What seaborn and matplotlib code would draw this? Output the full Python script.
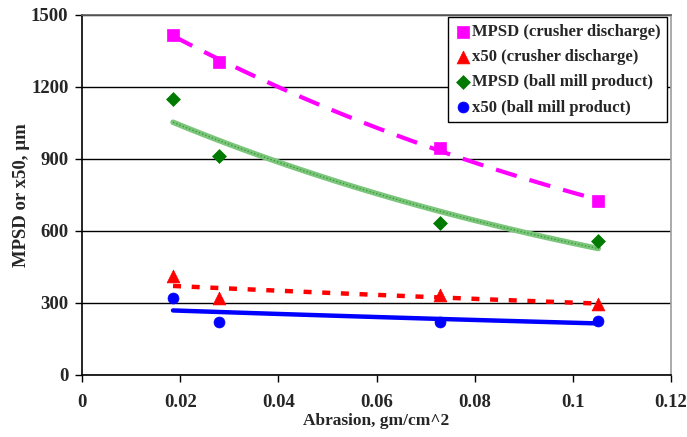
import numpy as np
import pandas as pd
import matplotlib
matplotlib.use("Agg")
import matplotlib.pyplot as plt
import seaborn as sns

# Data
abrasion = [0.0185, 0.0279, 0.0729, 0.1052]
mpsd_crusher = [1417, 1303, 947, 724]
x50_crusher = [410, 318, 332, 295]
mpsd_ball = [1150, 913, 631, 556]
x50_ball = [321, 218, 221, 225]
series_names = ["MPSD (crusher discharge)", "x50 (crusher discharge)",
                "MPSD (ball mill product)", "x50 (ball mill product)"]
x_ticks = [0, 0.02, 0.04, 0.06, 0.08, 0.1, 0.12]
x_tick_labels = ["0", "0.02", "0.04", "0.06", "0.08", "0.1", "0.12"]
y_ticks = [0, 300, 600, 900, 1200, 1500]

sns.set_theme(style="white")
plt.rcParams["font.family"] = ["Liberation Serif", "DejaVu Serif"]
plt.rcParams["font.weight"] = "bold"

values = [mpsd_crusher, x50_crusher, mpsd_ball, x50_ball]
df = pd.DataFrame({
    "x": np.tile(abrasion, 4),
    "y": np.concatenate(values),
    "series": np.repeat(series_names, len(abrasion)),
})

# Exponential trendlines fitted to each series
xs = np.linspace(min(abrasion), max(abrasion), 60)
trend_rows = []
for name, v in zip(series_names, values):
    b, a = np.polyfit(abrasion, np.log(v), 1)
    trend_rows.append(pd.DataFrame({"x": xs, "y": np.exp(a + b * xs), "series": name}))
trend = pd.concat(trend_rows, ignore_index=True)

colors = {series_names[0]: "#ff00ff", series_names[1]: "#ff0000",
          series_names[2]: "#007a00", series_names[3]: "#0000ff"}
markers = {series_names[0]: "s", series_names[1]: "^",
           series_names[2]: "D", series_names[3]: "o"}
sizes = {series_names[0]: 68, series_names[1]: 85,
         series_names[2]: 50, series_names[3]: 62}

fig = plt.figure(figsize=(6.87, 4.37), dpi=100)
ax = fig.add_axes([0.1198, 0.1426, 0.8567, 0.8231])

line_styles = {
    series_names[0]: dict(color="#ff00ff", lw=3, dashes=(5.2, 3.2)),
    series_names[1]: dict(color="#ff0000", lw=3.2, dashes=(1.8, 2.4)),
    series_names[2]: dict(color="#7cc67c", lw=4, dashes=()),
    series_names[3]: dict(color="#0000ff", lw=3.2, dashes=()),
}
for name in series_names:
    st = line_styles[name]
    sub = trend[trend["series"] == name]
    if st["dashes"]:
        sns.lineplot(data=sub, x="x", y="y", ax=ax, color=st["color"], lw=st["lw"],
                     dashes=False, linestyle=(0, st["dashes"]), legend=False, zorder=2)
    else:
        sns.lineplot(data=sub, x="x", y="y", ax=ax, color=st["color"], lw=st["lw"],
                     legend=False, zorder=2)
# texture on green line
sub = trend[trend["series"] == series_names[2]]
sns.lineplot(data=sub, x="x", y="y", ax=ax, color="#3a9a3a", lw=1.0,
             linestyle=(0, (1, 1.5)), legend=False, zorder=2)

for name in series_names:
    sub = df[df["series"] == name]
    sns.scatterplot(data=sub, x="x", y="y", ax=ax, color=colors[name],
                    marker=markers[name], s=sizes[name], edgecolor=colors[name],
                    linewidth=0.5, label=name, zorder=3)

ax.set_xlim(0, 0.12)
ax.set_ylim(0, 1500)
ax.set_xticks(x_ticks)
ax.set_xticklabels(x_tick_labels)
ax.set_yticks(y_ticks)
ax.set_yticklabels([str(t) for t in y_ticks])
ax.tick_params(axis="both", labelsize=13.5, length=5, width=1, color="black",
               direction="out", bottom=True, left=True)
ax.tick_params(axis="x", pad=9)
ax.tick_params(axis="y", pad=5)
for lbl in ax.get_xticklabels() + ax.get_yticklabels():
    lbl.set_fontweight("bold")
ax.yaxis.grid(True, color="black", lw=1)
ax.xaxis.grid(False)
ax.set_axisbelow(True)
for side in ["left", "bottom"]:
    ax.spines[side].set_color("black")
    ax.spines[side].set_linewidth(1.2)
ax.spines["right"].set_color("#a0a0a0")
ax.spines["top"].set_color("#606060")
ax.set_xlabel("Abrasion, gm/cm^2", fontsize=12.5, fontweight="bold", labelpad=1)
ax.set_ylabel("MPSD or x50, µm", fontsize=13.5, fontweight="bold", labelpad=1)

leg = ax.legend(loc="upper right", bbox_to_anchor=(0.997, 0.998), frameon=True,
                fancybox=False, edgecolor="black", framealpha=1,
                prop={"weight": "bold", "size": 12, "family": "Liberation Serif"},
                handletextpad=0.05, borderpad=0.4, labelspacing=0.55,
                handlelength=1.0, borderaxespad=0.1)
leg.get_frame().set_linewidth(1.0)

fig.savefig("out.png", dpi=100)
